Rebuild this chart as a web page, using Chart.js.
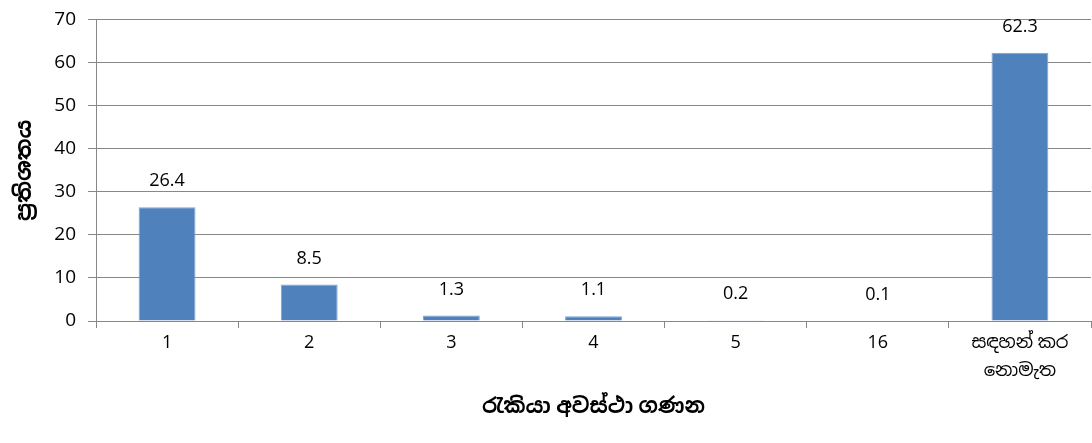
<!DOCTYPE html>
<html>
<head>
  <meta charset="UTF-8">
  <style>
    body { margin: 0; background: #fff; }
    #wrap { width: 1092px; height: 443px; }
  </style>
</head>
<body>
  <div id="wrap"><canvas id="chart"></canvas></div>
  <script src="https://cdn.jsdelivr.net/npm/chart.js@4.3.0/dist/chart.umd.min.js"></script>
  <script>
    const categories = ["1", "2", "3", "4", "5", "16", ["සඳහන් කර", "නොමැත"]]
    const values = [26.4, 8.5, 1.3, 1.1, 0.2, 0.1, 62.3]
    const yTitle = "ප්‍රතිශතය"
    const xTitle = "රැකියා අවස්ථා ගණන"

    const font = "'Open Sans', 'Noto Sans Sinhala', 'Iskoola Pota', sans-serif"

    // value labels above each bar
    const barLabels = {
      id: "barLabels",
      afterDatasetsDraw(chart) {
        const ctx = chart.ctx
        const meta = chart.getDatasetMeta(0)
        ctx.save()
        ctx.font = "18px " + font
        ctx.fillStyle = "#000"
        ctx.textAlign = "center"
        ctx.textBaseline = "middle"
        meta.data.forEach((bar, i) => {
          ctx.fillText(values[i].toFixed(1), bar.x, bar.y - 26)
        })
        ctx.restore()
      }
    }

    new Chart(document.getElementById("chart"), {
      type: "bar",
      data: {
        labels: categories,
        datasets: [{
          data: values,
          backgroundColor: "#4f81bd",
          borderColor: "#7fa3d0",
          borderWidth: 1,
          barPercentage: 0.8,
          categoryPercentage: 0.5
        }]
      },
      options: {
        responsive: true,
        maintainAspectRatio: false,
        animation: false,
        layout: { padding: { top: 17, right: 1 } },
        plugins: { legend: { display: false }, tooltip: { enabled: false } },
        scales: {
          x: {
            grid: { display: true, drawOnChartArea: false, color: "#888", tickLength: 7, offset: true },
            border: { color: "#888" },
            ticks: { color: "#000", font: { size: 18, family: font, lineHeight: 1.6 }, padding: 0, maxRotation: 0 },
            title: { display: true, text: xTitle, color: "#000", font: { size: 21, weight: "bold", family: font }, padding: { top: 20, bottom: 23 } },
            afterFit(scale) { scale.height = 122 }
          },
          y: {
            min: 0, max: 70,
            ticks: { stepSize: 10, color: "#000", font: { size: 19, family: font, lineHeight: 0.8 }, padding: 12 },
            grid: { color: "#888", tickLength: 8 },
            border: { color: "#888" },
            title: { display: true, text: yTitle, color: "#000", font: { size: 22, weight: "bold", family: font }, padding: { top: 12, bottom: 4 } },
            afterFit(scale) { scale.width = 96 }
          }
        }
      },
      plugins: [barLabels]
    })
  </script>
</body>
</html>
